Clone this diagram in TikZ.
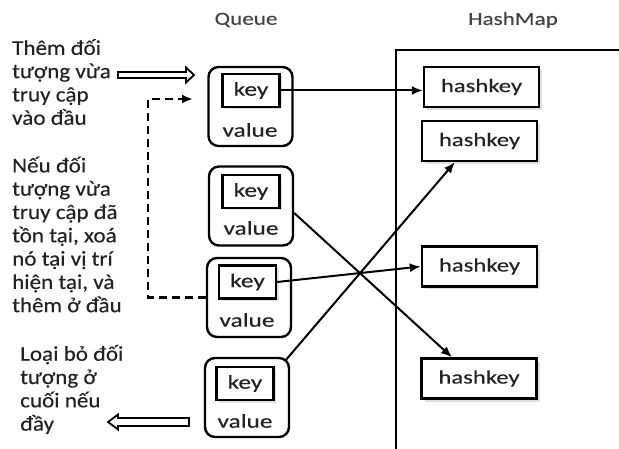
\documentclass[tikz,border=0pt]{standalone}
\usepackage{fontspec}
\setmainfont{Carlito}
\newfontfamily\notefont[FakeStretch=1.1,FakeBold=0.25]{Carlito}
\newfontfamily\titlefont[FakeStretch=1.25,FakeBold=0.25]{Carlito}
\newfontfamily\boxfont[FakeStretch=1.3,FakeBold=0.25]{Carlito}
\usetikzlibrary{arrows.meta,shadows,calc}
\definecolor{ink}{RGB}{34,34,34}
\tikzset{
  note/.style={align=left, inner sep=0pt, anchor=west, text=ink,
    font=\notefont\fontsize{21}{23.3}\selectfont},
  title/.style={inner sep=0pt, text=ink!85, font=\titlefont\fontsize{18.5}{20}\selectfont},
  entry/.style={draw, line width=2.4pt, rounded corners=10pt, minimum width=84pt, minimum height=79pt, inner sep=0pt},
  keybox/.style={draw, line width=2.4pt, fill=white, minimum width=57pt, minimum height=33pt, inner sep=0pt,
    text=ink, font=\boxfont\fontsize{19.5}{20}\selectfont,
    drop shadow={shadow xshift=2.5pt, shadow yshift=-2.5pt, opacity=0.25}},
  valtext/.style={inner sep=0pt, text=ink, font=\boxfont\fontsize{19.5}{20}\selectfont},
  hashbox/.style={draw, line width=2.4pt, fill=white, minimum width=115pt, minimum height=40pt, inner sep=0pt,
    text=ink, font=\boxfont\fontsize{19}{20}\selectfont,
    drop shadow={shadow xshift=3pt, shadow yshift=-3pt, opacity=0.25}},
  link/.style={line width=2pt, -{Latex[length=11pt,width=9pt]}},
  dashlink/.style={line width=2.2pt, dash pattern=on 8pt off 5pt, -{Latex[length=11pt,width=9pt]}},
  hollow/.style={line width=1.8pt, fill=white, line join=miter},
}
\begin{document}
\begin{tikzpicture}[x=1pt, y=-1pt]
\useasboundingbox (0,0) rectangle (619,449);

% column titles
\node[title] (tq) at (246,20) {Queue};
\node[title] (th) at (513,20) {HashMap};

% hash map frame (open to the right and bottom)
\coordinate (fb) at (396,449);
\coordinate (fc) at (396,50);
\coordinate (fr) at (619,50);
\draw[line width=2.4pt] (fb) -- (fc) -- (fr);

% queue entries
\node[entry] (q1) at (250.5,106.5) {};
\node[entry] (q2) at (251,206) {};
\node[entry] (q3) at (249,297.5) {};
\node[entry] (q4) at (247,397.5) {};

\node[keybox] (k1) at (251,90.5) {key};
\node[keybox] (k2) at (251,191.5) {key};
\node[keybox] (k3) at (247.5,282) {key};
\node[keybox] (k4) at (245,383.5) {key};

\node[valtext] (v1) at (250,130) {value};
\node[valtext] (v2) at (251,228) {value};
\node[valtext] (v3) at (247,320) {value};
\node[valtext] (v4) at (245,421) {value};

% hash map entries
\node[hashbox] (h1) at (481.5,87) {hashkey};
\node[hashbox] (h2) at (479.5,141) {hashkey};
\node[hashbox] (h3) at (479.5,266.5) {hashkey};
\node[hashbox] (h4) at (479,378.5) {hashkey};

% links from queue entries to hash keys
\draw[link] (k1.east) -- (k1.east -| h1.west);
\draw[link] ([yshift=-7pt]q2.east) -- ($(h4.north west)!0.27!(h4.north east)$);
\draw[link] (k3.east) -- (h3.west);
\draw[link] ([xshift=-5pt,yshift=-4pt]q4.north east) -- ($(h2.south west)!0.29!(h2.south east)$);

% move an existing entry to the head
\coordinate (dc) at (148,99);
\coordinate (dt) at (193,99);
\draw[dashlink] (q3.west) -| (dc) -- (dt);

% insertion and eviction arrows
\coordinate (inTail) at (118,75);
\coordinate (inTip) at (194,75);
\draw[hollow] (inTail) ++(0,-3) -- ++(68,0) -- ++(0,-4.5) -- (inTip) -- ++(-8,7.5) -- ++(0,-4.5) -- ++(-68,0) -- cycle;
\coordinate (outTail) at (189,422);
\coordinate (outTip) at (108,422);
\draw[hollow] (outTail) ++(0,-4) -- ++(-71,0) -- ++(0,-3.5) -- (outTip) -- ++(10,7.5) -- ++(0,-3.5) -- ++(71,0) -- cycle;

% explanatory notes
\node[note] (n1) at (12,82) {Thêm đối\\tượng vừa\\truy cập\\vào đầu};
\node[note] (n2) at (12,234.5) {Nếu đối\\tượng vừa\\truy cập đã\\tồn tại, xoá\\nó tại vị trí\\hiện tại, và\\thêm ở đầu};
\node[note] (n3) at (20,389.5) {Loại bỏ đối\\tượng ở\\cuối nếu\\đầy};
\end{tikzpicture}
\end{document}
